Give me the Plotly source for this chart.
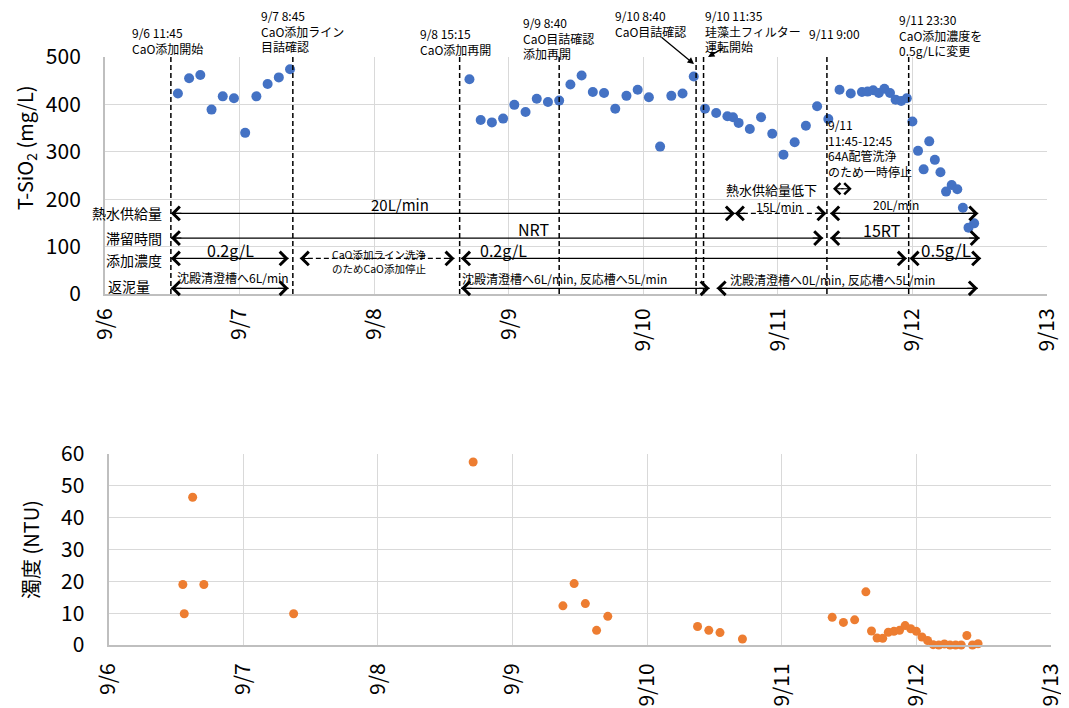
import plotly.graph_objects as go

YEAR = "2019-"

# T-SiO2 (mg/L)
sio2_time = [
    "09-06 13:00", "09-06 15:00", "09-06 17:00", "09-06 19:00", "09-06 21:00", "09-06 23:00",
    "09-07 01:00", "09-07 03:00", "09-07 05:00", "09-07 07:00", "09-07 09:00",
    "09-08 17:00", "09-08 19:00", "09-08 21:00", "09-08 23:00",
    "09-09 01:00", "09-09 03:00", "09-09 05:00", "09-09 07:00", "09-09 09:00", "09-09 11:00",
    "09-09 13:00", "09-09 15:00", "09-09 17:00", "09-09 19:00", "09-09 21:00", "09-09 23:00",
    "09-10 01:00", "09-10 03:00", "09-10 05:00", "09-10 07:00", "09-10 09:00", "09-10 11:00",
    "09-10 13:00", "09-10 15:00", "09-10 16:00", "09-10 17:00", "09-10 19:00", "09-10 21:00",
    "09-10 23:00",
    "09-11 01:00", "09-11 03:00", "09-11 05:00", "09-11 07:00", "09-11 09:00", "09-11 11:00",
    "09-11 13:00", "09-11 15:00", "09-11 16:00", "09-11 17:00", "09-11 18:00", "09-11 19:00",
    "09-11 20:00", "09-11 21:00", "09-11 22:00", "09-11 23:00",
    "09-12 00:00", "09-12 01:00", "09-12 02:00", "09-12 03:00", "09-12 04:00", "09-12 05:00",
    "09-12 06:00", "09-12 07:00", "09-12 08:00", "09-12 09:00", "09-12 10:00", "09-12 11:00",
]
sio2_val = [
    423, 455, 462, 389, 417, 413,
    340, 417, 443, 457, 474,
    453, 367, 362, 370,
    399, 384, 412, 405, 408, 442,
    461, 426, 424, 391, 418, 431,
    415, 311, 418, 423, 459, 391,
    382, 375, 373, 361, 348, 373,
    338,
    294, 320, 355, 396, 369, 431,
    423, 426, 427, 430, 424, 433,
    424, 410, 407, 413,
    364, 302, 263, 322, 283, 257,
    216, 230, 221, 182, 140, 149,
]

# 濁度 (NTU)
turb_time = [
    "09-06 13:15", "09-06 13:30", "09-06 15:00", "09-06 17:00", "09-07 09:00",
    "09-08 17:00",
    "09-09 09:00", "09-09 11:00", "09-09 13:00", "09-09 15:00", "09-09 17:00",
    "09-10 09:00", "09-10 11:00", "09-10 13:00", "09-10 17:00",
    "09-11 09:00", "09-11 11:00", "09-11 13:00", "09-11 15:00", "09-11 16:00", "09-11 17:00",
    "09-11 18:00", "09-11 19:00", "09-11 20:00", "09-11 21:00", "09-11 22:00", "09-11 23:00",
    "09-12 00:00", "09-12 01:00", "09-12 02:00", "09-12 03:00", "09-12 04:00", "09-12 05:00",
    "09-12 06:00", "09-12 07:00", "09-12 08:00", "09-12 09:00", "09-12 10:00", "09-12 11:00",
]
turb_val = [
    19.0, 9.8, 46.4, 19.0, 9.8,
    57.5,
    12.3, 19.3, 13.0, 4.6, 9.0,
    5.8, 4.6, 3.9, 1.9,
    8.7, 7.1, 7.9, 16.7, 4.4, 2.2,
    2.1, 4.0, 4.3, 4.6, 6.1, 5.1,
    4.3, 2.5, 1.4, 0.1, 0.0, 0.3,
    0.0, 0.0, 0.0, 3.0, 0.0, 0.4,
]

# 操作変更の時刻(破線)
event_time = ["09-06 11:45", "09-07 09:30", "09-08 15:15", "09-09 09:00",
              "09-10 09:25", "09-10 10:45", "09-11 08:45", "09-11 23:20"]

# 運転条件の矢印 (開始, 終了, 行の高さ, 破線)
cond_rows = [
    ("09-06 11:45", "09-10 16:20", 170, False),
    ("09-10 16:20", "09-11 08:40", 170, True),
    ("09-11 09:20", "09-12 11:45", 170, False),
    ("09-06 11:45", "09-11 08:05", 118, False),
    ("09-11 09:20", "09-12 12:00", 118, False),
    ("09-06 11:45", "09-07 08:45", 75, False),
    ("09-07 10:45", "09-08 14:20", 75, True),
    ("09-08 15:30", "09-11 23:00", 75, False),
    ("09-11 23:30", "09-12 12:15", 75, False),
    ("09-06 11:45", "09-07 08:45", 12, False),
    ("09-08 15:30", "09-10 11:50", 12, False),
    ("09-10 13:05", "09-12 11:40", 12, False),
]

BLUE = "#4472C4"
ORANGE = "#ED7D31"
FONT = "Noto Sans CJK JP"

# ページの余白 8px 分を差し引いた図のサイズ
OFF = 8
W, H = 1069 - OFF, 708 - OFF
L, R, T, B = 105 - OFF, 18, 57 - OFF, 63
PW, PH = W - L - R, H - T - B


def ts(s):
    return YEAR + s


def px(x, y):
    # 画面上の位置 -> paper座標
    return (x - OFF - L) / PW, (H - B - (y - OFF)) / PH


fig = go.Figure()
fig.add_trace(go.Scatter(x=[ts(t) for t in sio2_time], y=sio2_val, mode="markers",
                         marker=dict(color=BLUE, size=10), xaxis="x", yaxis="y",
                         cliponaxis=False, showlegend=False))
fig.add_trace(go.Scatter(x=[ts(t) for t in turb_time], y=turb_val, mode="markers",
                         marker=dict(color=ORANGE, size=9), xaxis="x2", yaxis="y2",
                         cliponaxis=False, showlegend=False))

axis_common = dict(
    showgrid=True, gridcolor="#d9d9d9", gridwidth=1,
    showline=True, linecolor="#bfbfbf", linewidth=2,
    zeroline=False, ticks="", tickfont=dict(size=21, color="black"),
    automargin=False,
)
xr = [ts("09-06 00:00"), ts("09-13 00:00")]

fig.update_layout(
    width=W, height=H,
    margin=dict(l=L, r=R, t=T, b=B, autoexpand=False),
    paper_bgcolor="white", plot_bgcolor="white",
    font=dict(family=FONT, color="black"),
    xaxis=dict(domain=[0, (1047 - 105) / PW], anchor="y", range=xr, type="date",
               dtick=86400000, tickformat="%-m/%-d", tickangle=-90,
               ticklabelstandoff=4, **axis_common),
    yaxis=dict(domain=[px(0, 294)[1], 1], anchor="x", range=[0, 500], dtick=100,
               ticklabelstandoff=18, **axis_common),
    xaxis2=dict(domain=[(108.5 - 105) / PW, 1], anchor="y2", range=xr, type="date",
                dtick=86400000, tickformat="%-m/%-d", tickangle=-90,
                ticklabelstandoff=8, **axis_common),
    yaxis2=dict(domain=[0, px(0, 454)[1]], anchor="x2", range=[0, 60], dtick=10,
                ticklabelstandoff=18, **axis_common),
)

# 破線(イベント)
for t in event_time:
    fig.add_shape(type="line", xref="x", yref="y", x0=ts(t), x1=ts(t), y0=0, y1=500,
                  line=dict(color="black", width=1.5, dash="5px,3px"))


def head(x, y, direction, size=2.4):
    fig.add_annotation(x=x, y=y, xref="x", yref="y", text="", showarrow=True,
                       arrowhead=4, arrowsize=size, arrowwidth=1.1, arrowcolor="black",
                       ax=-12 * direction, ay=0)


for t0, t1, yv, dashed in cond_rows:
    fig.add_shape(type="line", xref="x", yref="y", x0=ts(t0), x1=ts(t1), y0=yv, y1=yv,
                  line=dict(color="black", width=1.3, dash="5px,3px" if dashed else "solid"))
    head(ts(t0), yv, -1)
    head(ts(t1), yv, 1)

# 9/11 11:45-12:45 一時停止
head(ts("09-11 09:50"), 222, -1, size=2.0)
head(ts("09-11 13:10"), 222, 1, size=2.0)


def note(text, x, y, size=12, xanchor="left", yanchor="top", align="left"):
    fx, fy = px(x, y)
    fig.add_annotation(text=text, x=fx, y=fy, xref="paper", yref="paper",
                       xanchor=xanchor, yanchor=yanchor, align=align, showarrow=False,
                       font=dict(size=size, color="black", family=FONT), borderpad=0)


# 上部のイベント説明
note("9/6 11:45<br>CaO添加開始", 131, 23)
note("9/7 8:45<br>CaO添加ライン<br>目詰確認", 260, 6)
note("9/8 15:15<br>CaO添加再開", 419, 24)
note("9/9 8:40<br>CaO目詰確認<br>添加再開", 522, 13)
note("9/10 8:40<br>CaO目詰確認", 614, 6)
note("9/10 11:35<br>珪藻土フィルター<br>運転開始", 704, 6)
note("9/11 9:00", 808, 24)
note("9/11 23:30<br>CaO添加濃度を<br>0.5g/Lに変更", 898, 10)
note("9/11<br>11:45-12:45<br>64A配管洗浄<br>のため一時停止", 827, 115)
note("熱水供給量低下", 771, 189, size=13, xanchor="center", yanchor="middle")

# 説明から破線への矢印
hx, hy = px(694, 64)
fig.add_annotation(x=hx, y=hy, xref="paper", yref="paper", text="", showarrow=True,
                   arrowhead=2, arrowsize=1, arrowwidth=1.3, arrowcolor="black", ax=-34, ay=-28)
hx, hy = px(708, 57)
fig.add_annotation(x=hx, y=hy, xref="paper", yref="paper", text="", showarrow=True,
                   arrowhead=2, arrowsize=1, arrowwidth=1.3, arrowcolor="black", ax=17, ay=-10)

# 行ラベル
note("熱水供給量", 91, 213, size=14, yanchor="middle")
note("滞留時間", 105, 238, size=14, yanchor="middle")
note("添加濃度", 105, 260, size=14, yanchor="middle")
note("返泥量", 107, 286, size=14, yanchor="middle")

# 矢印上の値
note("20L/min", 400, 205, size=15, xanchor="center", yanchor="middle")
note("15L/min", 779, 206, size=12, xanchor="center", yanchor="middle")
note("20L/min", 896, 205, size=12, xanchor="center", yanchor="middle")
note("NRT", 533, 229, size=16, xanchor="center", yanchor="middle")
note("15RT", 882, 230, size=16, xanchor="center", yanchor="middle")
note("0.2g/L", 230, 250, size=16, xanchor="center", yanchor="middle")
note("0.2g/L", 503, 250, size=16, xanchor="center", yanchor="middle")
note("0.5g/L", 946, 249, size=17, xanchor="center", yanchor="middle")
note("CaO添加ライン洗浄", 379, 254, size=10.5, xanchor="center", yanchor="middle")
note("のためCaO添加停止", 379, 268, size=10.5, xanchor="center", yanchor="middle")
note("沈殿清澄槽へ6L/min", 176, 277, size=12, yanchor="middle")
note("沈殿清澄槽へ6L/min, 反応槽へ5L/min", 461, 278, size=12, yanchor="middle")
note("沈殿清澄槽へ0L/min, 反応槽へ5L/min", 729, 279, size=12, yanchor="middle")

# 軸タイトル
note("T-SiO<sub>2</sub> (mg/L)", 25, 148, size=20, xanchor="center", yanchor="middle")
fig.layout.annotations[-1].textangle = -90
note("濁度 (NTU)", 30, 550, size=20, xanchor="center", yanchor="middle")
fig.layout.annotations[-1].textangle = -90

fig.write_html("out.html")
